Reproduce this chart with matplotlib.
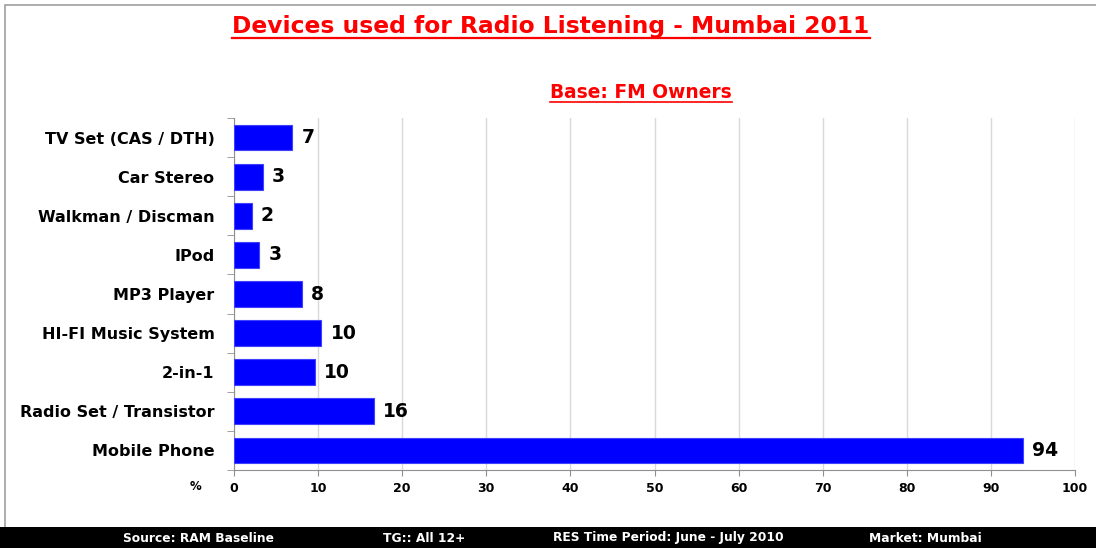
import matplotlib.pyplot as plt
from matplotlib.patches import Rectangle
from matplotlib.lines import Line2D

devices = ['Mobile Phone', 'Radio Set / Transistor', '2-in-1', 'HI-FI Music System',
           'MP3 Player', 'IPod', 'Walkman / Discman', 'Car Stereo', 'TV Set (CAS / DTH)']
share = [93.8, 16.6, 9.6, 10.4, 8.1, 3.0, 2.1, 3.4, 6.9]
shown = [94, 16, 10, 10, 8, 3, 2, 3, 7]
xticks = [0, 10, 20, 30, 40, 50, 60, 70, 80, 90, 100]
footer = ['Source: RAM Baseline', 'TG:: All 12+', 'RES Time Period: June - July 2010', 'Market: Mumbai']
footer_x = [0.181, 0.387, 0.61, 0.844]

W, H = 1096, 548
fig = plt.figure(figsize=(W / 100, H / 100), dpi=100)
fig.patch.set_facecolor('white')

# frame + black footer band
fig.add_artist(Rectangle((5 / W, 0), 1, 1 - 5 / H, transform=fig.transFigure,
                         fill=False, edgecolor='#a0a0a0', lw=1.2))
fig.add_artist(Rectangle((0, 0), 1, 21 / H, transform=fig.transFigure,
                         facecolor='black', edgecolor='none'))
for txt, fx in zip(footer, footer_x):
    fig.text(fx, 10 / H, txt, color='white', fontsize=8.8, fontweight='bold',
             ha='center', va='center', family='DejaVu Sans')

ax = fig.add_axes([234 / W, (H - 470) / H, (1075 - 234) / W, (470 - 118) / H])
pos = list(range(len(devices)))
ax.barh(pos, share, height=0.66, color='#0000ff', edgecolor='#4040ff', lw=0.8, zorder=3)
for p, v, s in zip(pos, share, shown):
    ax.text(v + 1.1, p, str(s), va='center', ha='left', fontsize=13.5,
            fontweight='bold', family='DejaVu Sans')

ax.set_xlim(0, 100)
ax.set_ylim(-0.5, len(devices) - 0.5)
ax.set_xticks(xticks)
ax.set_xticklabels([str(t) for t in xticks], fontsize=9, fontweight='bold')
ax.set_yticks(pos)
ax.set_yticklabels(devices, fontsize=11.5, fontweight='bold')
ax.set_yticks([p + 0.5 for p in pos[:-1]] + [-0.5, len(devices) - 0.5], minor=True)
ax.tick_params(axis='y', which='major', length=0, pad=14)
ax.tick_params(axis='y', which='minor', length=5, color='#909090')
ax.tick_params(axis='x', length=4, color='#909090', pad=5)
ax.grid(axis='x', color='#d9d9d9', lw=1, zorder=0)
for side in ['top', 'right']:
    ax.spines[side].set_visible(False)
for side in ['left', 'bottom']:
    ax.spines[side].set_color('#909090')
fig.text(195 / W, (H - 487) / H, '%', fontsize=8.5, fontweight='bold', ha='center', va='center')

title = fig.text(551 / W, (H - 27) / H, 'Devices used for Radio Listening - Mumbai 2011',
                 color='red', fontsize=16.8, fontweight='bold', ha='center', va='center',
                 family='DejaVu Sans')
sub = fig.text(641 / W, (H - 93) / H, 'Base: FM Owners', color='red', fontsize=13.4,
               fontweight='bold', ha='center', va='center', family='DejaVu Sans')

fig.canvas.draw()
r = fig.canvas.get_renderer()
for t, lw in [(title, 1.6), (sub, 1.2)]:
    bb = t.get_window_extent(r)
    y = (bb.y0 + 1) / H
    fig.add_artist(Line2D([bb.x0 / W, bb.x1 / W], [y, y], color='red', lw=lw,
                          transform=fig.transFigure))

fig.savefig('out.png', dpi=100)
